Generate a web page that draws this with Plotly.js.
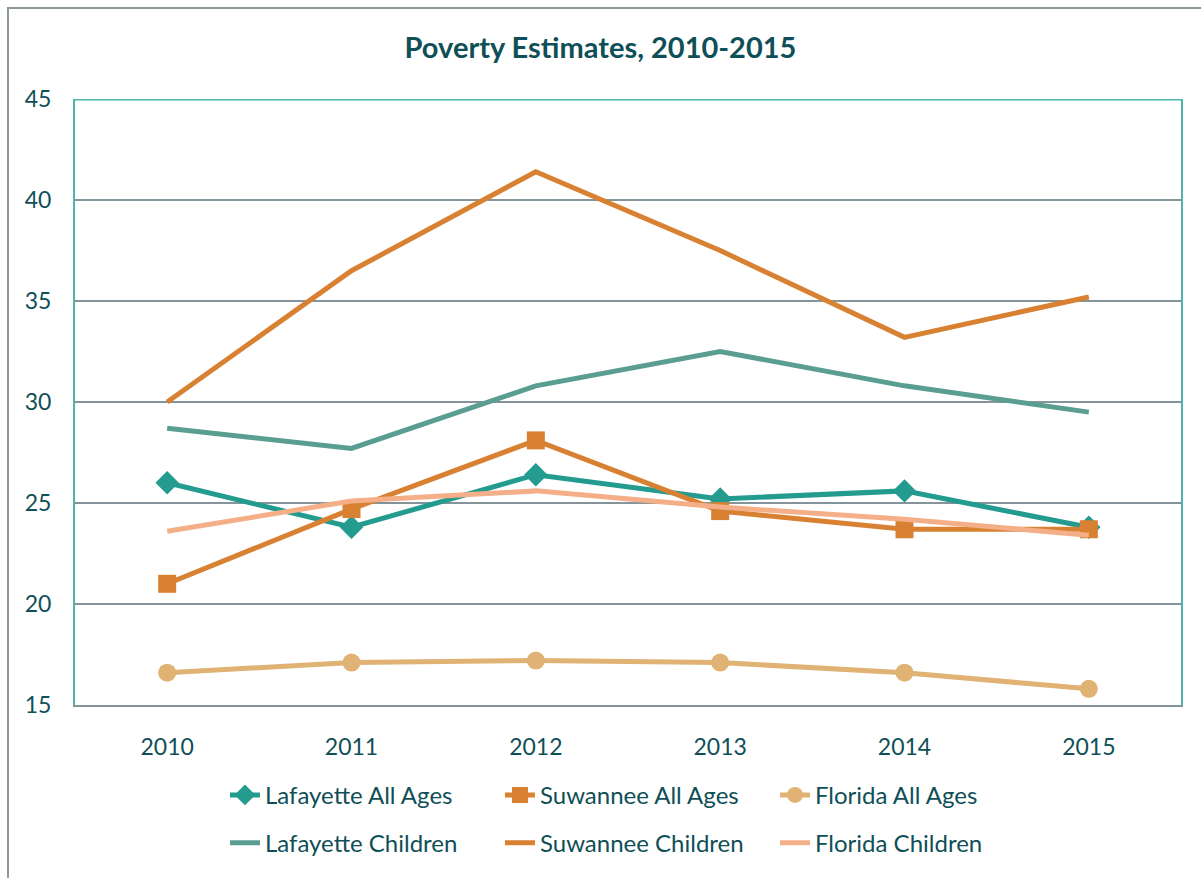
<!DOCTYPE html>
<html>
<head>
<meta charset="utf-8">
<script src="https://cdn.plot.ly/plotly-3.0.1.min.js"></script>
<style>
html,body{margin:0;padding:0;background:#fff;}
#wrap{position:relative;width:1201px;height:878px;overflow:hidden;}
#frame{position:absolute;left:7px;top:7px;width:1300px;height:1000px;border-left:2px solid #8c979a;border-top:2px solid #8c979a;box-sizing:border-box;pointer-events:none;z-index:5;}
#chart{position:absolute;left:0;top:0;width:1201px;height:878px;}
</style>
</head>
<body>
<div id="wrap"><div id="chart"></div><div id="frame"></div></div>
<script>
const years = ['2010','2011','2012','2013','2014','2015'];
const lafayetteAll = [26.0, 23.8, 26.4, 25.2, 25.6, 23.8];
const suwanneeAll = [21.0, 24.7, 28.1, 24.6, 23.7, 23.7];
const floridaAll = [16.6, 17.1, 17.2, 17.1, 16.6, 15.8];
const lafayetteChildren = [28.7, 27.7, 30.8, 32.5, 30.8, 29.5];
const suwanneeChildren = [30.0, 36.5, 41.4, 37.5, 33.2, 35.2];
const floridaChildren = [23.6, 25.1, 25.6, 24.8, 24.2, 23.4];
const yTicks = [15, 20, 25, 30, 35, 40, 45];

const textColor = '#0f4f57';
const font = 'Lato, "Open Sans", sans-serif';

function tr(name, y, color, symbol, msize, legend) {
  const t = {
    x: years, y: y, name: name, type: 'scatter',
    mode: symbol ? 'lines+markers' : 'lines',
    line: {color: color, width: 5},
    legend: legend
  };
  if (symbol) t.marker = {symbol: symbol, size: msize, color: color};
  return t;
}

const data = [
  tr('Lafayette All Ages', lafayetteAll, '#239b8e', 'diamond', 18, 'legend'),
  tr('Suwannee All Ages', suwanneeAll, '#d98132', 'square', 18, 'legend'),
  tr('Florida All Ages', floridaAll, '#e0b274', 'circle', 18, 'legend'),
  tr('Lafayette Children', lafayetteChildren, '#5a9e91', null, 0, 'legend2'),
  tr('Suwannee Children', suwanneeChildren, '#d98132', null, 0, 'legend2'),
  tr('Florida Children', floridaChildren, '#f5af88', null, 0, 'legend2')
];

const legendBase = {
  orientation: 'h', xanchor: 'left', yanchor: 'middle', x: 0.1356,
  entrywidth: 230, entrywidthmode: 'pixels',
  font: {family: font, size: 24, color: textColor},
  bgcolor: 'rgba(0,0,0,0)', itemclick: false
};

const layout = {
  width: 1201, height: 878,
  margin: {l: 75, r: 20, t: 99, b: 170},
  paper_bgcolor: '#ffffff', plot_bgcolor: '#ffffff',
  title: {text: '<b>Poverty Estimates, 2010-2015</b>', x: 0.5, xanchor: 'center', y: 0.946, yanchor: 'middle',
    font: {family: font, size: 29, color: textColor}},
  xaxis: {
    type: 'category', showgrid: false, zeroline: false,
    showline: true, linecolor: '#84949a', linewidth: 2,
    ticks: 'outside', ticklen: 20, tickcolor: 'rgba(0,0,0,0)',
    tickfont: {family: font, size: 23, color: textColor},
    range: [-0.5, 5.5]
  },
  yaxis: {
    range: [15, 45], tickvals: yTicks, ticktext: yTicks.map(String),
    showgrid: true, gridcolor: '#84949a', gridwidth: 2, zeroline: false,
    showline: true, linecolor: '#4db6ac', linewidth: 2, mirror: true,
    ticks: 'outside', ticklen: 17, tickcolor: 'rgba(0,0,0,0)',
    tickfont: {family: font, size: 23, color: textColor}
  },
  shapes: [
    {type: 'line', xref: 'paper', yref: 'y', x0: 0, x1: 1, y0: 45, y1: 45,
     line: {color: '#4db6ac', width: 3}}
  ],
  legend: Object.assign({}, legendBase, {y: -0.149}),
  legend2: Object.assign({}, legendBase, {y: -0.228}),
  showlegend: true
};

Plotly.newPlot('chart', data, layout, {displayModeBar: false, staticPlot: true});
</script>
</body>
</html>
